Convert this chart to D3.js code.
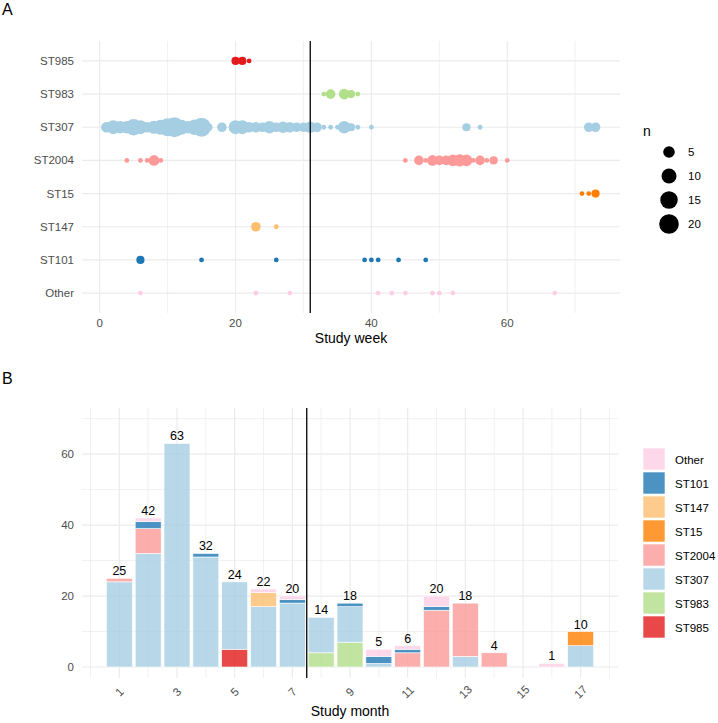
<!DOCTYPE html>
<html>
<head>
<meta charset="utf-8">
<script src="https://cdn.jsdelivr.net/npm/d3@7"></script>
<style>
  body { margin: 0; background: #fff; }
  text { font-family: "Liberation Sans", Arial, sans-serif; }
</style>
</head>
<body>
<script>
// ---- data ----
// panel A rows, top to bottom
var strainRows = ["ST985", "ST983", "ST307", "ST2004", "ST15", "ST147", "ST101", "Other"];

// [study week, n] per strain
var wkST985 = [[20, 2], [21, 2], [22, 1]];
var wkST983 = [[33, 1], [34, 3], [36, 4], [37, 2], [38, 1]];
var wkST307 = [[1, 4], [2, 8], [3, 6], [4, 6], [5, 13], [6, 8], [7, 4], [8, 7], [9, 10], [10, 16],
               [11, 21], [12, 10], [13, 6], [14, 11], [15, 18], [16, 2], [18, 3], [20, 8], [21, 8],
               [22, 4], [23, 4], [24, 3], [25, 6], [26, 3], [27, 5], [28, 4], [29, 3], [30, 3],
               [31, 5], [32, 3], [33, 1], [34, 1], [35, 1], [36, 6], [37, 2], [38, 1], [40, 1],
               [54, 2], [56, 1], [72, 3], [73, 3]];
var wkST2004 = [[4, 1], [6, 1], [7, 1], [8, 4], [9, 1], [45, 1], [47, 3], [48, 1], [49, 4], [50, 3],
                [51, 3], [52, 5], [53, 6], [54, 5], [55, 1], [56, 3], [57, 1], [58, 2], [60, 1]];
var wkST15 = [[71, 1], [72, 1], [73, 2]];
var wkST147 = [[23, 3], [26, 1]];
var wkST101 = [[6, 2], [15, 1], [26, 1], [39, 1], [40, 1], [41, 1], [44, 1], [48, 1]];
var wkOther = [[6, 1], [23, 1], [28, 1], [41, 1], [43, 1], [45, 1], [49, 1], [50, 1], [52, 1], [67, 1]];

var sizeBreaks = [5, 10, 15, 20];
var weekTicks = [0, 20, 40, 60];
var cutWeek = 31;

// panel B: counts per study month
var months = [1, 2, 3, 4, 5, 6, 7, 8, 9, 10, 11, 12, 13, 14, 15, 16, 17];
var moST985  = [0, 0, 0, 0, 5, 0, 0, 0, 0, 0, 0, 0, 0, 0, 0, 0, 0];
var moST983  = [0, 0, 0, 0, 0, 0, 0, 4, 7, 0, 0, 0, 0, 0, 0, 0, 0];
var moST307  = [24, 32, 63, 31, 19, 17, 18, 10, 10, 1, 0, 0, 3, 0, 0, 0, 6];
var moST2004 = [1, 7, 0, 0, 0, 0, 0, 0, 0, 0, 4, 16, 15, 4, 0, 0, 0];
var moST15   = [0, 0, 0, 0, 0, 0, 0, 0, 0, 0, 0, 0, 0, 0, 0, 0, 4];
var moST147  = [0, 0, 0, 0, 0, 4, 0, 0, 0, 0, 0, 0, 0, 0, 0, 0, 0];
var moST101  = [0, 2, 0, 1, 0, 0, 1, 0, 1, 2, 1, 1, 0, 0, 0, 0, 0];
var moOther  = [0, 1, 0, 0, 0, 1, 1, 0, 0, 2, 1, 3, 0, 0, 0, 1, 0];
var monthTicks = [1, 3, 5, 7, 9, 11, 13, 15, 17];
var countTicks = [0, 20, 40, 60];
var cutMonth = 7.5;

var colors = {
  "ST985": "#E31A1C", "ST983": "#B2DF8A", "ST307": "#A6CEE3", "ST2004": "#FB9A99",
  "ST15": "#FF7F00", "ST147": "#FDBF6F", "ST101": "#1F78B4", "Other": "#FCCDE5"
};

var weekData = {
  "ST985": wkST985, "ST983": wkST983, "ST307": wkST307, "ST2004": wkST2004,
  "ST15": wkST15, "ST147": wkST147, "ST101": wkST101, "Other": wkOther
};

var svg = d3.select("body").append("svg").attr("width", 718).attr("height", 723);
var grid = "#EBEBEB", tickCol = "#4D4D4D";
var tickSize = 11.5;

// ================= panel A =================
var xA = d3.scaleLinear().domain([-2.6, 76.6]).range([82, 620]);
var yA = d3.scalePoint().domain(strainRows).range([41, 313]).padding(0.6);
var allN = [];
strainRows.forEach(function(s) { weekData[s].forEach(function(d) { allN.push(d[1]); }); });
var nExt = d3.extent(allN);
var rLin = d3.scaleLinear().domain([0, 1]).range([2.4, 10]);
function rA(n) { return rLin(Math.sqrt((n - nExt[0]) / (nExt[1] - nExt[0]))); }

var gA = svg.append("g");
svg.append("text").attr("x", 2).attr("y", 15).attr("font-size", 16).text("A");

gA.selectAll("line.minx").data([10, 30, 50, 70]).enter().append("line")
  .attr("x1", xA).attr("x2", xA).attr("y1", 41).attr("y2", 313)
  .attr("stroke", grid).attr("stroke-width", 0.7);
gA.selectAll("line.majx").data(weekTicks).enter().append("line")
  .attr("x1", xA).attr("x2", xA).attr("y1", 41).attr("y2", 313)
  .attr("stroke", grid).attr("stroke-width", 1.2);
gA.selectAll("line.majy").data(strainRows).enter().append("line")
  .attr("x1", 82).attr("x2", 620).attr("y1", yA).attr("y2", yA)
  .attr("stroke", grid).attr("stroke-width", 1.2);

strainRows.forEach(function(s) {
  gA.append("g").selectAll("circle").data(weekData[s]).enter().append("circle")
    .attr("cx", function(d) { return xA(d[0]); })
    .attr("cy", yA(s))
    .attr("r", function(d) { return rA(d[1]); })
    .attr("fill", colors[s]);
});

gA.append("line").attr("x1", xA(cutWeek)).attr("x2", xA(cutWeek))
  .attr("y1", 41).attr("y2", 313).attr("stroke", "#000").attr("stroke-width", 1.3);

gA.selectAll("text.yl").data(strainRows).enter().append("text")
  .attr("x", 74).attr("y", function(d) { return yA(d) + 4; })
  .attr("text-anchor", "end").attr("font-size", tickSize).attr("fill", tickCol)
  .text(function(d) { return d; });
gA.selectAll("text.xl").data(weekTicks).enter().append("text")
  .attr("x", xA).attr("y", 327).attr("text-anchor", "middle")
  .attr("font-size", tickSize).attr("fill", tickCol).text(function(d) { return d; });
gA.append("text").attr("x", 351).attr("y", 343).attr("text-anchor", "middle")
  .attr("font-size", 14).text("Study week");

// size legend
var legA = svg.append("g");
legA.append("text").attr("x", 643).attr("y", 136).attr("font-size", 14).text("n");
legA.selectAll("circle").data(sizeBreaks).enter().append("circle")
  .attr("cx", 669).attr("cy", function(d, i) { return 152 + i * 24; })
  .attr("r", rA).attr("fill", "#000");
legA.selectAll("text.lt").data(sizeBreaks).enter().append("text")
  .attr("x", 688).attr("y", function(d, i) { return 152 + i * 24 + 4; })
  .attr("font-size", tickSize).attr("fill", "#000").text(function(d) { return d; });

// ================= panel B =================
var stackKeys = ["ST985", "ST983", "ST307", "ST2004", "ST15", "ST147", "ST101", "Other"];
var monthSeries = {
  "ST985": moST985, "ST983": moST983, "ST307": moST307, "ST2004": moST2004,
  "ST15": moST15, "ST147": moST147, "ST101": moST101, "Other": moOther
};
var table = months.map(function(m, i) {
  var row = { month: m };
  stackKeys.forEach(function(k) { row[k] = monthSeries[k][i]; });
  return row;
});
var totals = table.map(function(r) {
  return { month: r.month, n: d3.sum(stackKeys, function(k) { return r[k]; }) };
}).filter(function(d) { return d.n > 0; });

var xB = d3.scaleLinear().domain([-0.295, 18.295]).range([82, 618]);
var yB = d3.scaleLinear().domain([-3.1, 73]).range([678, 408]);
var gB = svg.append("g");
svg.append("text").attr("x", 2).attr("y", 384).attr("font-size", 16).text("B");

gB.selectAll("line.minx").data([0, 2, 4, 6, 8, 10, 12, 14, 16, 18]).enter().append("line")
  .attr("x1", xB).attr("x2", xB).attr("y1", 408).attr("y2", 678)
  .attr("stroke", grid).attr("stroke-width", 0.7);
gB.selectAll("line.majx").data(monthTicks).enter().append("line")
  .attr("x1", xB).attr("x2", xB).attr("y1", 408).attr("y2", 678)
  .attr("stroke", grid).attr("stroke-width", 1.2);
gB.selectAll("line.miny").data([10, 30, 50, 70]).enter().append("line")
  .attr("x1", 82).attr("x2", 618).attr("y1", yB).attr("y2", yB)
  .attr("stroke", grid).attr("stroke-width", 0.7);
gB.selectAll("line.majy").data(countTicks).enter().append("line")
  .attr("x1", 82).attr("x2", 618).attr("y1", yB).attr("y2", yB)
  .attr("stroke", grid).attr("stroke-width", 1.2);

var stacked = d3.stack().keys(stackKeys)(table);
gB.selectAll("g.layer").data(stacked).enter().append("g")
  .attr("fill", function(d) { return colors[d.key]; })
  .attr("fill-opacity", 0.8)
  .selectAll("rect").data(function(d) { return d.filter(function(p) { return p[1] > p[0]; }); })
  .enter().append("rect")
  .attr("x", function(d) { return xB(d.data.month - 0.45); })
  .attr("width", function(d) { return xB(d.data.month + 0.45) - xB(d.data.month - 0.45); })
  .attr("y", function(d) { return yB(d[1]); })
  .attr("height", function(d) { return yB(d[0]) - yB(d[1]); })
  .attr("stroke", "#fff").attr("stroke-width", 0.6);

gB.selectAll("text.tot").data(totals).enter().append("text")
  .attr("x", function(d) { return xB(d.month); })
  .attr("y", function(d) { return yB(d.n) - 3; })
  .attr("text-anchor", "middle").attr("font-size", 12.5).attr("fill", "#000")
  .text(function(d) { return d.n; });

gB.append("line").attr("x1", xB(cutMonth)).attr("x2", xB(cutMonth))
  .attr("y1", 408).attr("y2", 678).attr("stroke", "#000").attr("stroke-width", 1.3);

gB.selectAll("text.yl").data(countTicks).enter().append("text")
  .attr("x", 74).attr("y", function(d) { return yB(d) + 4; })
  .attr("text-anchor", "end").attr("font-size", tickSize).attr("fill", tickCol)
  .text(function(d) { return d; });
gB.selectAll("text.xl").data(monthTicks).enter().append("text")
  .attr("transform", function(d) { return "translate(" + xB(d) + ",692) rotate(-45)"; })
  .attr("text-anchor", "middle").attr("dy", "0.35em")
  .attr("font-size", tickSize).attr("fill", tickCol).text(function(d) { return d; });
gB.append("text").attr("x", 350).attr("y", 716).attr("text-anchor", "middle")
  .attr("font-size", 14).text("Study month");

// fill legend
var legKeys = stackKeys.slice().reverse();
var legB = svg.append("g");
legB.selectAll("rect").data(legKeys).enter().append("rect")
  .attr("x", 643).attr("y", function(d, i) { return 448 + i * 24; })
  .attr("width", 22).attr("height", 22)
  .attr("fill", function(d) { return colors[d]; }).attr("fill-opacity", 0.8)
  .attr("stroke", "#fff").attr("stroke-width", 0.6);
legB.selectAll("text").data(legKeys).enter().append("text")
  .attr("x", 675).attr("y", function(d, i) { return 448 + i * 24 + 15.5; })
  .attr("font-size", tickSize).attr("fill", "#000").text(function(d) { return d; });
</script>
</body>
</html>
